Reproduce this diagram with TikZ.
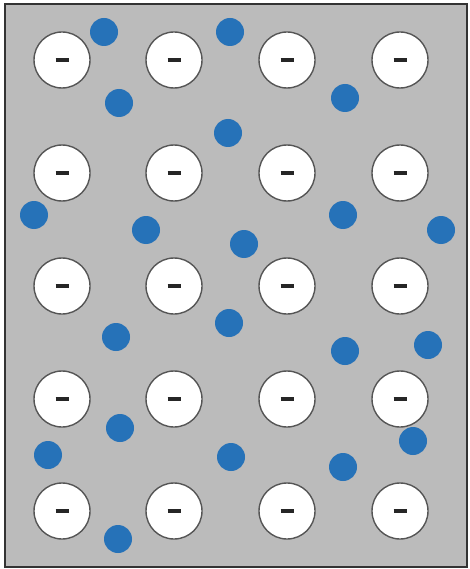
\documentclass[tikz,border=0pt]{standalone}
\usepackage{xcolor}
\usepackage{tikz}
\usetikzlibrary{positioning}

\definecolor{bgray}{RGB}{187,187,187}
\definecolor{ionblue}{RGB}{38,114,184}
\definecolor{rimgray}{RGB}{85,85,85}

\begin{document}
\begin{tikzpicture}[
   x=1pt, y=-1pt,
   ion/.style={circle,draw=rimgray,line width=1.4pt,fill=white,minimum size=56pt,inner sep=0pt},
   elec/.style={circle,fill=ionblue,minimum size=28pt,inner sep=0pt}]
  \useasboundingbox (0,0) rectangle (469,569);
  \draw[fill=bgray,draw=black!80,line width=2pt] (5,4) rectangle (467,567);
  % lattice of negative ions
  \foreach \c/\x in {1/62,2/174,3/287,4/400}
    \foreach \r/\y in {1/60,2/173,3/286,4/399,5/511}
      \node[ion] (ion\r\c) at (\x,\y) {\textcolor{black!85}{\rule[-1.5pt]{13pt}{3.8pt}}};
  % free charges
  \foreach \i/\x/\y in {1/104/32, 2/230/32, 3/119/103, 4/345/98, 5/228/133,
                        6/34/215, 7/146/230, 8/244/244, 9/343/215, 10/441/230,
                        11/116/337, 12/229/323, 13/345/351, 14/428/345,
                        15/120/428, 16/48/455, 17/231/457, 18/343/467, 19/413/441,
                        20/118/539}
    \node[elec] (e\i) at (\x,\y) {};
\end{tikzpicture}
\end{document}
